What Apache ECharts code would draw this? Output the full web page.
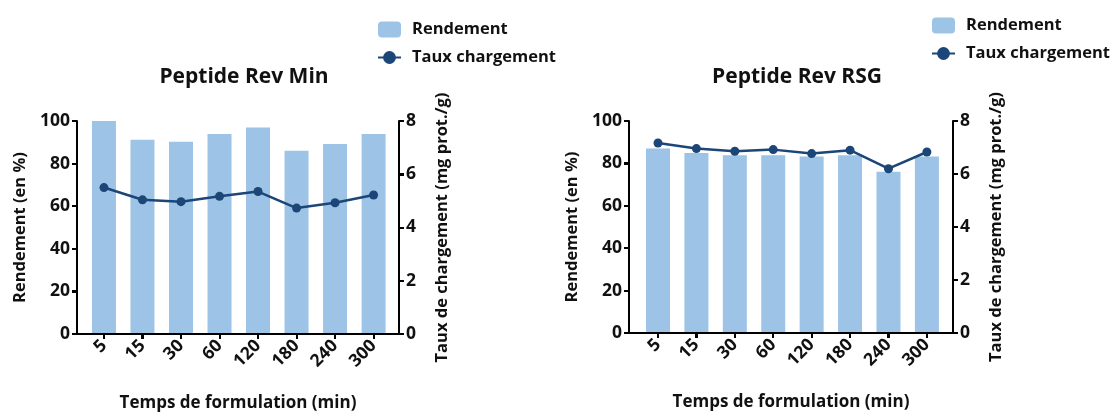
<!DOCTYPE html>
<html>
<head>
<meta charset="utf-8">
<script src="https://cdn.jsdelivr.net/npm/echarts@6/dist/echarts.min.js"></script>
<style>
  html, body { margin: 0; padding: 0; background: #fff; }
  #chart { width: 1112px; height: 412px; }
</style>
</head>
<body>
<div id="chart"></div>
<script>
// Formulation times (min)
const categories = ['5', '15', '30', '60', '120', '180', '240', '300'];

// Peptide Rev Min
const minRendement = [100, 91.2, 90.3, 93.9, 97.0, 86.0, 89.2, 93.9];
const minTaux = [5.50, 5.04, 4.97, 5.17, 5.35, 4.73, 4.93, 5.22];

// Peptide Rev RSG
const rsgRendement = [87.0, 84.9, 83.9, 83.9, 83.3, 83.9, 76.1, 83.3];
const rsgTaux = [7.17, 6.96, 6.86, 6.92, 6.77, 6.90, 6.20, 6.83];

// Tick labels of the two value axes
const leftTicks = [0, 20, 40, 60, 80, 100];
const rightTicks = [0, 2, 4, 6, 8];

const titles = ['Peptide Rev Min', 'Peptide Rev RSG'];

const FONT = 'Open Sans';
const INK = '#000';
const BAR = '#9DC3E6';
const LINE = '#1B4677';

const idx = categories.map((_, i) => i);
const pairs = arr => arr.map((v, i) => [i, v]);

const mkLine = () => ({ show: true, onZero: false, lineStyle: { color: INK, width: 2 } });
const mkTick = () => ({ show: true, inside: false, length: 5, lineStyle: { color: INK, width: 2 } });
const mkLabel = extra => Object.assign({ color: '#111', fontFamily: FONT, fontWeight: 'bold', fontSize: 17.5 }, extra);
const mkName = size => ({ color: '#111', fontFamily: FONT, fontWeight: 'bold', fontSize: size });

const panels = [
  { left: 77, top: 121, width: 322, height: 213, xmin: -0.70, xmax: 7.66, cx: 239, legendLeft: 372, legendTop: 16 },
  { left: 629, top: 121, width: 324, height: 212, xmin: -0.755, xmax: 7.68, cx: 792, legendLeft: 926, legendTop: 12 }
];

const option = {
  animation: false,
  title: panels.map((g, k) => ({
    text: titles[k],
    left: g.cx, top: 62, textAlign: 'center',
    textStyle: { color: '#111', fontFamily: FONT, fontWeight: 'bold', fontSize: 21 }
  })),
  legend: panels.map(g => ({
    orient: 'vertical',
    left: g.legendLeft, top: g.legendTop,
    itemWidth: 23, itemHeight: 16, itemGap: 11,
    data: ['Rendement', 'Taux chargement'],
    textStyle: { color: '#111', fontFamily: FONT, fontWeight: 'bold', fontSize: 16.5, padding: [0, 0, 0, 6] }
  })),
  grid: panels.map(g => ({
    left: g.left, top: g.top, width: g.width, height: g.height, outerBoundsMode: 'none'
  })),
  xAxis: panels.map((g, k) => ({
    type: 'value', gridIndex: k, min: g.xmin, max: g.xmax,
    splitLine: { show: false },
    axisLine: mkLine(),
    axisTick: Object.assign({ customValues: idx }, mkTick()),
    axisLabel: mkLabel({
      customValues: idx, rotate: 45, margin: 9,
      formatter: v => categories[Math.round(v)]
    }),
    name: 'Temps de formulation (min)', nameLocation: 'middle', nameGap: 61,
    nameTextStyle: mkName(17)
  })),
  yAxis: [].concat(...panels.map((g, k) => [
    {
      type: 'value', gridIndex: k, position: 'left', min: 0, max: 100, interval: 20,
      splitLine: { show: false }, axisLine: mkLine(), axisTick: mkTick(),
      axisLabel: mkLabel({ margin: 7 }),
      name: 'Rendement (en %)', nameLocation: 'middle', nameGap: 48, nameRotate: 90,
      nameTextStyle: mkName(16.5)
    },
    {
      type: 'value', gridIndex: k, position: 'right', min: 0, max: 8, interval: 2,
      splitLine: { show: false }, axisLine: mkLine(), axisTick: mkTick(),
      axisLabel: mkLabel({ margin: 7 }),
      name: 'Taux de chargement (mg prot./g)', nameLocation: 'middle', nameGap: 35, nameRotate: 90,
      nameTextStyle: mkName(16.5)
    }
  ])),
  series: [
    { name: 'Rendement', type: 'bar', xAxisIndex: 0, yAxisIndex: 0, barWidth: 24, itemStyle: { color: BAR }, data: pairs(minRendement) },
    { name: 'Taux chargement', type: 'line', xAxisIndex: 0, yAxisIndex: 1, symbol: 'circle', symbolSize: 9,
      lineStyle: { color: LINE, width: 2.5 }, itemStyle: { color: LINE }, data: pairs(minTaux) },
    { name: 'Rendement', type: 'bar', xAxisIndex: 1, yAxisIndex: 2, barWidth: 24, itemStyle: { color: BAR }, data: pairs(rsgRendement) },
    { name: 'Taux chargement', type: 'line', xAxisIndex: 1, yAxisIndex: 3, symbol: 'circle', symbolSize: 9,
      lineStyle: { color: LINE, width: 2.5 }, itemStyle: { color: LINE }, data: pairs(rsgTaux) }
  ]
};

const chart = echarts.init(document.getElementById('chart'));
chart.setOption(option);

// Axis frame (left, right and bottom lines with outward ticks), placed through the axes' own scales
const frame = [];
const seg = (x1, y1, x2, y2) => frame.push({
  type: 'line', z: 100, silent: true,
  shape: { x1: Math.round(x1), y1: Math.round(y1), x2: Math.round(x2), y2: Math.round(y2) },
  style: { stroke: INK, lineWidth: 2 }
});
panels.forEach((p, k) => {
  const leftRef = { xAxisIndex: k, yAxisIndex: 2 * k };
  const rightRef = { xAxisIndex: k, yAxisIndex: 2 * k + 1 };
  const [xL, yB] = chart.convertToPixel(leftRef, [p.xmin, leftTicks[0]]);
  const [xR, yT] = chart.convertToPixel(leftRef, [p.xmax, leftTicks[leftTicks.length - 1]]);
  seg(xL - 1, yB, xR + 1, yB);
  seg(xL, yB, xL, yT);
  seg(xR, yB, xR, yT);
  leftTicks.forEach(v => {
    const y = chart.convertToPixel(leftRef, [p.xmin, v])[1];
    seg(xL - 5, y, xL, y);
  });
  rightTicks.forEach(v => {
    const y = chart.convertToPixel(rightRef, [p.xmax, v])[1];
    seg(xR, y, xR + 5, y);
  });
  idx.forEach(i => {
    const x = chart.convertToPixel(leftRef, [i, 0])[0];
    seg(x, yB, x, yB + 5);
  });
});
chart.setOption({ graphic: frame });
</script>
</body>
</html>
